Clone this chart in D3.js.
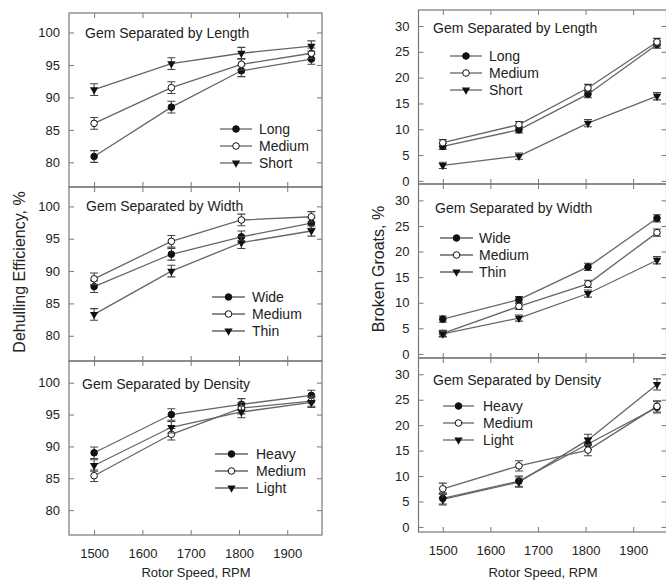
<!DOCTYPE html>
<html>
<head>
<meta charset="utf-8">
<script src="https://cdn.jsdelivr.net/npm/d3@7"></script>
<style>
  body { margin: 0; background: #fff; }
  svg { font-family: "Liberation Sans", Arial, sans-serif; }
</style>
</head>
<body>
<svg id="chart" width="666" height="583"></svg>
<script>
// rotor speeds (x values)
const rpm = [1500, 1660, 1805, 1950];
const xTicks = [1500, 1600, 1700, 1800, 1900];
const effTicks = [80, 85, 90, 95, 100];
const brokenTicks = [0, 5, 10, 15, 20, 25, 30];

// dehulling efficiency, %
const effLengthLong = [80.9, 88.5, 94.1, 95.9];
const effLengthMedium = [86.0, 91.5, 95.1, 96.8];
const effLengthShort = [91.2, 95.2, 96.8, 97.9];
const effWidthWide = [87.6, 92.6, 95.3, 97.4];
const effWidthMedium = [88.8, 94.6, 97.9, 98.4];
const effWidthThin = [83.3, 90.0, 94.4, 96.2];
const effDensityHeavy = [89.0, 95.0, 96.6, 98.0];
const effDensityMedium = [85.4, 91.9, 96.0, 97.1];
const effDensityLight = [87.0, 93.0, 95.4, 96.9];

// broken groats, %
const brkLengthLong = [6.7, 9.9, 16.8, 26.4];
const brkLengthMedium = [7.4, 10.9, 18.0, 26.9];
const brkLengthShort = [3.0, 4.8, 11.2, 16.4];
const brkWidthWide = [6.8, 10.6, 17.0, 26.5];
const brkWidthMedium = [4.0, 9.3, 13.7, 23.7];
const brkWidthThin = [3.9, 7.0, 11.8, 18.3];
const brkDensityHeavy = [5.6, 9.0, 16.3, 23.5];
const brkDensityMedium = [7.5, 12.0, 15.1, 23.7];
const brkDensityLight = [5.4, 8.8, 17.1, 28.0];

// error bar half widths
const errEff = [0.9, 0.9, 0.9, 0.8];
const errBrk = [0.6, 0.6, 0.7, 0.7];
const errBrkDensity = [1.1, 1.0, 1.1, 1.1];

const lengthNames = ["Long", "Medium", "Short"];
const widthNames = ["Wide", "Medium", "Thin"];
const densityNames = ["Heavy", "Medium", "Light"];
const symbols = ["filled", "open", "triangle"];

const svg = d3.select("#chart");
const ink = "#222";
const lineCol = "#666";
const frameCol = "#777";

const leftX = d3.scaleLinear().domain([1448, 1972]).range([69, 322]);
const rightX = d3.scaleLinear().domain([1449, 1970]).range([418.5, 666.5]);

const panels = [
  {x: leftX, top: 13, domain: [76.2, 103], ticks: effTicks, title: "Gem Separated by Length",
   names: lengthNames, series: [effLengthLong, effLengthMedium, effLengthShort], err: errEff,
   titleAt: [85, 38], legend: {x1: 220, x2: 252, tx: 259, y: 129}},
  {x: leftX, top: 187, domain: [76.1, 103], ticks: effTicks, title: "Gem Separated by Width",
   names: widthNames, series: [effWidthWide, effWidthMedium, effWidthThin], err: errEff,
   titleAt: [86, 211], legend: {x1: 212, x2: 245, tx: 252, y: 297}},
  {x: leftX, top: 361, domain: [76.1, 103.4], ticks: effTicks, title: "Gem Separated by Density",
   names: densityNames, series: [effDensityHeavy, effDensityMedium, effDensityLight], err: errEff,
   titleAt: [82, 389], legend: {x1: 215, x2: 248, tx: 256, y: 454}, xLabels: true},
  {x: rightX, top: 10, domain: [-0.6, 33.1], ticks: brokenTicks, title: "Gem Separated by Length",
   names: lengthNames, series: [brkLengthLong, brkLengthMedium, brkLengthShort], err: errBrk,
   titleAt: [433, 33], legend: {x1: 450, x2: 482, tx: 489, y: 56}},
  {x: rightX, top: 184, domain: [-0.8, 33.2], ticks: brokenTicks, title: "Gem Separated by Width",
   names: widthNames, series: [brkWidthWide, brkWidthMedium, brkWidthThin], err: errBrk,
   titleAt: [435, 213], legend: {x1: 440, x2: 473, tx: 479, y: 238}},
  {x: rightX, top: 358, domain: [-1.0, 33.2], ticks: brokenTicks, title: "Gem Separated by Density",
   names: densityNames, series: [brkDensityHeavy, brkDensityMedium, brkDensityLight], err: errBrkDensity,
   titleAt: [433, 385], legend: {x1: 443, x2: 474, tx: 483, y: 406}, xLabels: true}
];
const panelH = 174;

function marker(g, kind, cx, cy) {
  if (kind === "triangle") {
    g.append("path")
      .attr("d", d3.symbol().type(d3.symbolTriangle).size(30)())
      .attr("transform", "translate(" + cx + "," + cy + ") rotate(180)")
      .attr("fill", "#111");
  } else {
    g.append("circle")
      .attr("cx", cx).attr("cy", cy).attr("r", 3.3)
      .attr("fill", kind === "open" ? "#fff" : "#111")
      .attr("stroke", "#111").attr("stroke-width", 1);
  }
}

panels.forEach(function(p) {
  const x = p.x;
  const y = d3.scaleLinear().domain(p.domain).range([p.top + panelH, p.top]);
  const w = x.range()[1] - x.range()[0];
  const g = svg.append("g");

  // axes, all ticks pointing in
  g.append("g")
    .attr("transform", "translate(" + x.range()[0] + ",0)")
    .call(d3.axisLeft(y).tickValues(p.ticks).tickSize(-5).tickPadding(9))
    .call(a => a.select(".domain").remove());
  g.append("g")
    .attr("transform", "translate(" + x.range()[1] + ",0)")
    .call(d3.axisRight(y).tickValues(p.ticks).tickSize(-5).tickFormat(""))
    .call(a => a.select(".domain").remove());
  g.append("g")
    .attr("transform", "translate(0," + (p.top + panelH) + ")")
    .call(d3.axisBottom(x).tickValues(xTicks).tickSize(-5).tickPadding(14)
      .tickFormat(p.xLabels ? d3.format("d") : ""))
    .call(a => a.select(".domain").remove());
  g.append("g")
    .attr("transform", "translate(0," + p.top + ")")
    .call(d3.axisTop(x).tickValues(xTicks).tickSize(-5).tickFormat(""))
    .call(a => a.select(".domain").remove());
  g.selectAll(".tick line").attr("stroke", frameCol);
  g.selectAll(".tick text").attr("fill", ink).style("font-size", "13px")
    .style("font-family", "Liberation Sans, Arial, sans-serif");

  g.append("rect")
    .attr("x", x.range()[0]).attr("y", p.top)
    .attr("width", w).attr("height", panelH)
    .attr("fill", "none").attr("stroke", frameCol).attr("stroke-width", 1.2);

  g.append("text")
    .attr("x", p.titleAt[0]).attr("y", p.titleAt[1])
    .attr("fill", ink).style("font-size", "14px")
    .text(p.title);

  const line = d3.line().x((d, i) => x(rpm[i])).y(d => y(d));

  p.series.forEach(function(vals, s) {
    g.append("path")
      .attr("d", line(vals))
      .attr("fill", "none").attr("stroke", lineCol).attr("stroke-width", 1.3);
  });
  p.series.forEach(function(vals, s) {
    vals.forEach(function(v, i) {
      const cx = x(rpm[i]);
      const e = p.err[i];
      g.append("path")
        .attr("d", "M" + cx + "," + y(v - e) + "V" + y(v + e) +
          "M" + (cx - 4) + "," + y(v - e) + "H" + (cx + 4) +
          "M" + (cx - 4) + "," + y(v + e) + "H" + (cx + 4))
        .attr("stroke", "#444").attr("stroke-width", 1.1).attr("fill", "none");
      marker(g, symbols[s], cx, y(v));
    });
  });

  // legend
  p.names.forEach(function(name, s) {
    const ly = p.legend.y + s * 17;
    g.append("line")
      .attr("x1", p.legend.x1).attr("x2", p.legend.x2)
      .attr("y1", ly).attr("y2", ly)
      .attr("stroke", lineCol).attr("stroke-width", 1.3);
    marker(g, symbols[s], (p.legend.x1 + p.legend.x2) / 2, ly);
    g.append("text")
      .attr("x", p.legend.tx).attr("y", ly).attr("dy", "0.35em")
      .attr("fill", ink).style("font-size", "14px")
      .text(name);
  });
});

// axis titles
svg.append("text")
  .attr("transform", "translate(25,272) rotate(-90)")
  .attr("text-anchor", "middle").attr("fill", ink)
  .style("font-size", "16px")
  .text("Dehulling Efficiency, %");
svg.append("text")
  .attr("transform", "translate(384,269) rotate(-90)")
  .attr("text-anchor", "middle").attr("fill", ink)
  .style("font-size", "16px")
  .text("Broken Groats, %");
svg.append("text")
  .attr("x", 196).attr("y", 577)
  .attr("text-anchor", "middle").attr("fill", ink)
  .style("font-size", "13px")
  .text("Rotor Speed, RPM");
svg.append("text")
  .attr("x", 543).attr("y", 577)
  .attr("text-anchor", "middle").attr("fill", ink)
  .style("font-size", "13px")
  .text("Rotor Speed, RPM");
</script>
</body>
</html>
